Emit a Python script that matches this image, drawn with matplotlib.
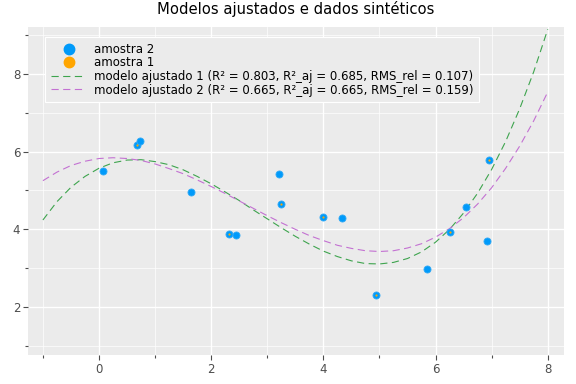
import matplotlib
matplotlib.use("Agg")
import matplotlib.pyplot as plt
from matplotlib.lines import Line2D
from matplotlib.ticker import MultipleLocator

# ---- data ----
amostra2_x = [0.07, 0.68, 0.73, 1.64, 2.32, 2.44, 3.21, 3.24, 4.00, 4.33,
              4.94, 5.85, 6.26, 6.54, 6.92, 6.95]
amostra2_y = [5.51, 6.18, 6.28, 4.97, 3.89, 3.86, 5.41, 4.66, 4.31, 4.28,
              2.31, 2.98, 3.92, 4.57, 3.70, 5.78]
amostra1_x = [0.68, 2.32, 3.24, 4.00, 4.94, 6.26, 6.95]
amostra1_y = [6.18, 3.89, 4.66, 4.31, 2.31, 3.92, 5.78]

curve_x = [-1.0, -0.75, -0.5, -0.25, 0.0, 0.25, 0.5, 0.75, 1.0, 1.25, 1.5, 1.75,
           2.0, 2.25, 2.5, 2.75, 3.0, 3.25, 3.5, 3.75, 4.0, 4.25, 4.5, 4.75,
           5.0, 5.25, 5.5, 5.75, 6.0, 6.25, 6.5, 6.75, 7.0, 7.25, 7.5, 7.75, 8.0]
modelo1_y = [4.24, 4.71, 5.08, 5.36, 5.57, 5.71, 5.78, 5.79, 5.74, 5.66, 5.53, 5.36,
             5.17, 4.96, 4.74, 4.50, 4.27, 4.04, 3.82, 3.62, 3.44, 3.30, 3.19, 3.12,
             3.11, 3.15, 3.25, 3.42, 3.67, 4.00, 4.42, 4.93, 5.54, 6.26, 7.10, 8.05, 9.14]
modelo2_y = [5.25, 5.47, 5.64, 5.75, 5.82, 5.84, 5.82, 5.77, 5.68, 5.56, 5.43, 5.27,
             5.10, 4.92, 4.73, 4.54, 4.35, 4.17, 4.00, 3.84, 3.71, 3.59, 3.51, 3.45,
             3.43, 3.45, 3.52, 3.63, 3.80, 4.02, 4.30, 4.65, 5.07, 5.57, 6.14, 6.79, 7.53]

labels = ["amostra 2", "amostra 1",
          "modelo ajustado 1 (R² = 0.803, R²_aj = 0.685, RMS_rel = 0.107)",
          "modelo ajustado 2 (R² = 0.665, R²_aj = 0.665, RMS_rel = 0.159)"]
title = "Modelos ajustados e dados sintéticos"

# ---- style ----
BLUE = "#009AFA"
ORANGE = "#FFA500"
GREEN = "#3EA44E"
PURPLE = "#C371D2"
BG = "#EBEBEB"
TXT = "#4D4D4D"

plt.rcParams["font.family"] = ["DejaVu Sans"]

fig = plt.figure(figsize=(5.76, 3.84), dpi=100)
ax = fig.add_axes([0.0486, 0.0755, 0.9306, 0.8542])
ax.set_facecolor(BG)
for s in ax.spines.values():
    s.set_visible(False)

ax.set_xlim(-1.266, 8.29)
ax.set_ylim(0.77, 9.2)
ax.xaxis.set_major_locator(MultipleLocator(2))
ax.xaxis.set_minor_locator(MultipleLocator(1))
ax.yaxis.set_major_locator(MultipleLocator(2))
ax.yaxis.set_minor_locator(MultipleLocator(1))
ax.grid(which="major", color="white", lw=1.0)
ax.grid(which="minor", color="white", lw=0.5)
ax.set_axisbelow(True)
ax.tick_params(which="major", length=3.5, width=0.8, color=TXT, labelcolor=TXT,
               labelsize=8.5, pad=2)
ax.tick_params(which="minor", length=2, width=0.8, color=TXT)

dash = (0, (6.5, 4.0))
ax.plot(curve_x, modelo1_y, color=GREEN, lw=0.8, ls=dash, zorder=2)
ax.plot(curve_x, modelo2_y, color=PURPLE, lw=0.8, ls=dash, zorder=2)
ax.scatter(amostra2_x, amostra2_y, s=26, color=BLUE, edgecolors="#33AAF5",
           linewidths=0.6, zorder=3)
ax.scatter(amostra1_x, amostra1_y, s=2.5, color=ORANGE, linewidths=0, zorder=4)

handles = [
    Line2D([], [], ls="none", marker="o", ms=7.5, color=BLUE),
    Line2D([], [], ls="none", marker="o", ms=7.5, color=ORANGE),
    Line2D([], [], color=GREEN, lw=0.8, ls=dash),
    Line2D([], [], color=PURPLE, lw=0.8, ls=dash),
]
leg = ax.legend(handles, labels, loc="upper left", bbox_to_anchor=(0.032, 0.97),
                fontsize=8.5, frameon=True, fancybox=False, facecolor=BG,
                edgecolor="white", framealpha=1, handlelength=3.0,
                handletextpad=0.6, labelspacing=0.05, borderpad=0.5,
                borderaxespad=0.0)
leg.get_frame().set_linewidth(0.8)
for t in leg.get_texts():
    t.set_color("black")

ax.set_title(title, fontsize=10.6, color="black", pad=9)

fig.savefig("out.png", dpi=100, facecolor="white")
